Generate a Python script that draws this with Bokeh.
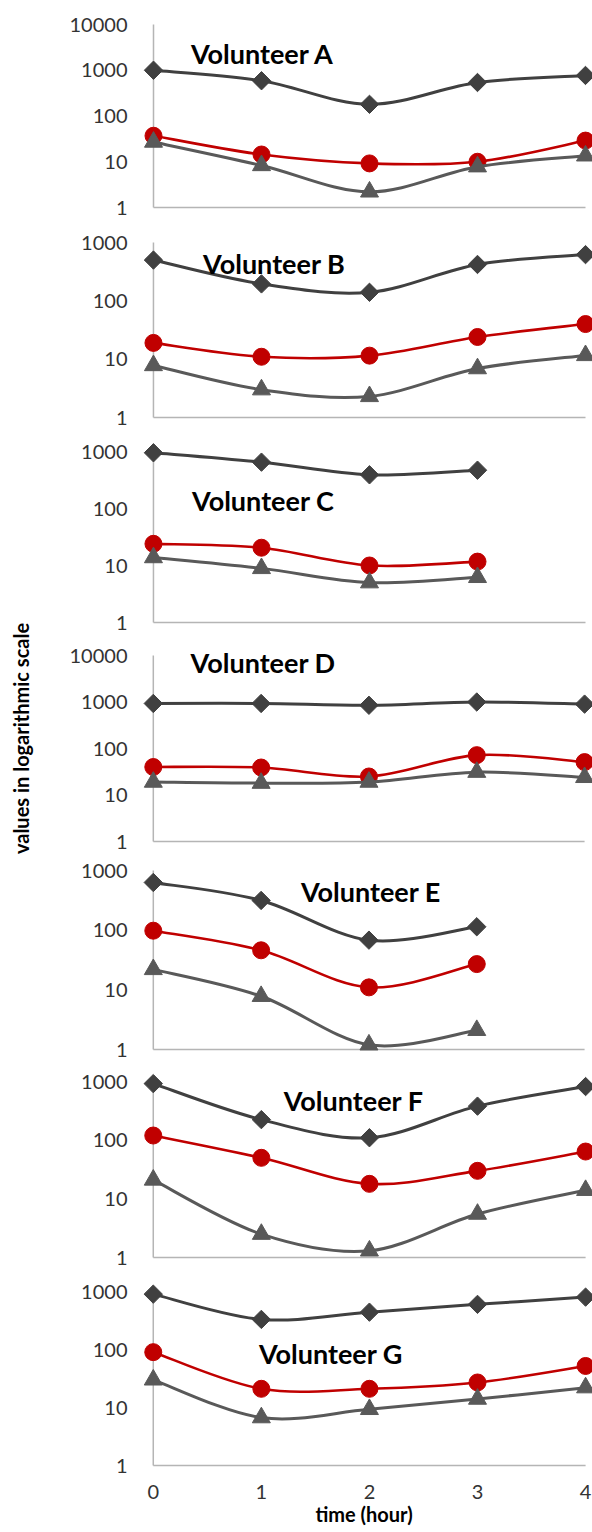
import math
from bokeh.plotting import figure
from bokeh.layouts import row, column
from bokeh.models import Range1d, FixedTicker, NumeralTickFormatter, Label
from bokeh.embed import file_html
from bokeh.resources import INLINE

# ---------------- data ----------------
hours = [0, 1, 2, 3, 4]
volunteers = ["A", "B", "C", "D", "E", "F", "G"]
y_ticks = [1, 10, 100, 1000, 10000]

# series 1 (dark diamonds), series 2 (red circles), series 3 (grey triangles)
a_s1 = [1000, 590, 180, 540, 770]
a_s2 = [37, 14.4, 9.2, 10, 29]
a_s3 = [27, 8.3, 2.2, 7.8, 13.5]

b_s1 = [500, 195, 140, 420, 620]
b_s2 = [19, 11, 11.5, 24, 40]
b_s3 = [7.8, 3.0, 2.3, 6.9, 11.6]

c_s1 = [950, 650, 390, 470]
c_s2 = [24, 20.5, 10, 11.7]
c_s3 = [13.8, 8.9, 5.0, 6.2]

d_s1 = [930, 930, 850, 1000, 900]
d_s2 = [40, 39, 25, 72, 51]
d_s3 = [19, 18, 19, 31, 24]

e_s1 = [630, 315, 68, 114]
e_s2 = [98, 46, 11, 27]
e_s3 = [22, 7.8, 1.2, 2.1]

f_s1 = [920, 224, 110, 380, 820]
f_s2 = [120, 50, 18, 30, 64]
f_s3 = [21, 2.5, 1.3, 5.5, 14]

g_s1 = [900, 330, 440, 600, 800]
g_s2 = [90, 21, 21, 27, 52]
g_s3 = [30, 6.7, 9.3, 14, 22]

series = {
    "A": (a_s1, a_s2, a_s3), "B": (b_s1, b_s2, b_s3), "C": (c_s1, c_s2, c_s3),
    "D": (d_s1, d_s2, d_s3), "E": (e_s1, e_s2, e_s3), "F": (f_s1, f_s2, f_s3),
    "G": (g_s1, g_s2, g_s3),
}
axis_top = {"A": 10000, "B": 1000, "C": 1000, "D": 10000, "E": 1000, "F": 1000, "G": 1000}

y_title = "values in logarithmic scale"
x_title = "time (hour)"

# ---------------- layout (page pixel geometry) ----------------
LAYOUT = {
    "A": dict(ct=0, h=225, yt=24, yb=207, xa=153, x4=585, tx=262, ty=53),
    "B": dict(ct=225, h=210, yt=242, yb=417, xa=152, x4=585, tx=273, ty=263),
    "C": dict(ct=435, h=205, yt=451, yb=622, xa=152, x4=585, tx=262, ty=500),
    "D": dict(ct=640, h=216, yt=655, yb=841, xa=148, x4=584, tx=259, ty=662),
    "E": dict(ct=856, h=208, yt=870, yb=1049, xa=148, x4=584, tx=368, ty=891),
    "F": dict(ct=1064, h=211, yt=1081, yb=1257, xa=147, x4=585, tx=350, ty=1100),
    "G": dict(ct=1275, h=255, yt=1291, yb=1465, xa=147, x4=585, tx=327, ty=1353),
}

C1, C2, C3 = "#404040", "#C00000", "#595959"
AXIS_GREY = "#b5b5b5"
FONT = "Lato"
LEFT_W = 48
PANEL_W = 544
RIGHT_EDGE = LEFT_W + PANEL_W


def bezier_segments(xs, ys):
    ly = [math.log10(v) for v in ys]
    n = len(xs)
    out = dict(x0=[], y0=[], x1=[], y1=[], cx0=[], cy0=[], cx1=[], cy1=[])
    for i in range(n - 1):
        im = max(i - 1, 0)
        ip = min(i + 2, n - 1)
        out["x0"].append(xs[i]); out["y0"].append(ys[i])
        out["x1"].append(xs[i + 1]); out["y1"].append(ys[i + 1])
        out["cx0"].append(xs[i] + (xs[i + 1] - xs[im]) / 6)
        out["cy0"].append(10 ** (ly[i] + (ly[i + 1] - ly[im]) / 6))
        out["cx1"].append(xs[i + 1] - (xs[ip] - xs[i]) / 6)
        out["cy1"].append(10 ** (ly[i + 1] - (ly[ip] - ly[i]) / 6))
    return out


def make_panel(name, last=False):
    L = LAYOUT[name]
    top = axis_top[name]
    d = (L["yb"] - L["yt"]) / math.log10(top)
    unit = (L["x4"] - L["xa"]) / 4
    fl = L["xa"] - 18
    pad_b = 4 if last else 12
    fb = L["yb"] + pad_b
    cb = L["ct"] + L["h"]
    x_start = (fl - L["xa"]) / unit
    x_end = 4 + (RIGHT_EDGE - L["x4"]) / unit
    y_end = top * 10 ** ((L["yt"] - L["ct"]) / d)
    y_start = 10 ** (-pad_b / d)

    p = figure(width=PANEL_W, height=L["h"], y_axis_type="log",
               x_range=Range1d(x_start, x_end), y_range=Range1d(y_start, y_end),
               toolbar_location=None, output_backend="svg", title=None,
               min_border_left=fl - LEFT_W, min_border_right=0,
               min_border_top=0, min_border_bottom=cb - fb)
    p.outline_line_color = None
    p.xgrid.visible = False
    p.ygrid.visible = False
    p.background_fill_color = "white"

    yt = [t for t in y_ticks if t <= top]
    p.yaxis.ticker = FixedTicker(ticks=yt, minor_ticks=[])
    p.yaxis.formatter = NumeralTickFormatter(format="0")
    p.yaxis.axis_line_color = None
    p.yaxis.major_tick_line_color = None
    p.yaxis.minor_tick_line_color = None
    p.yaxis.major_label_standoff = 2
    p.yaxis.major_label_text_font = FONT
    p.yaxis.major_label_text_font_size = "20px"
    p.yaxis.major_label_text_color = "#333333"

    if last:
        p.xaxis.ticker = FixedTicker(ticks=hours, minor_ticks=[])
        p.xaxis.axis_line_color = None
        p.xaxis.major_tick_line_color = None
        p.xaxis.minor_tick_line_color = None
        p.xaxis.major_label_standoff = 9
        p.xaxis.major_label_text_font = FONT
        p.xaxis.major_label_text_font_size = "20px"
        p.xaxis.major_label_text_color = "#333333"
        p.xaxis.axis_label = x_title
        p.xaxis.axis_label_text_font = FONT
        p.xaxis.axis_label_text_font_style = "bold"
        p.xaxis.axis_label_text_font_size = "20px"
        p.xaxis.axis_label_text_color = "black"
        p.xaxis.axis_label_standoff = 0
    else:
        p.xaxis.visible = False

    # axis lines
    p.segment(x0=[hours[0]], y0=[y_ticks[0]], x1=[hours[0]], y1=[top],
              line_color=AXIS_GREY, line_width=1.5)
    p.segment(x0=[hours[0]], y0=[y_ticks[0]], x1=[hours[-1]], y1=[y_ticks[0]],
              line_color=AXIS_GREY, line_width=1.5)

    s1, s2, s3 = series[name]
    for vals, col, marker, size, ang, lw in (
        (s1, C1, "square", 13, math.pi / 4, 3),
        (s2, C2, "circle", 17, 0, 2.6),
        (s3, C3, "triangle", 18, 0, 3),
    ):
        xs = hours[:len(vals)]
        seg = bezier_segments(xs, vals)
        p.bezier(line_color=col, line_width=lw, **seg)
        p.scatter(xs, vals, marker=marker, size=size, angle=ang,
                  fill_color=col, line_color=col)

    tx = (L["tx"] - L["xa"]) / unit
    ty = 10 ** ((L["yb"] - L["ty"]) / d)
    p.add_layout(Label(x=tx, y=ty, text="Volunteer " + name, text_font=FONT,
                       text_font_style="bold", text_font_size="27px",
                       text_align="center", text_baseline="alphabetic",
                       text_color="black"))
    return p


panels = [make_panel(v, last=(v == "G")) for v in volunteers]
total_h = sum(LAYOUT[v]["h"] for v in volunteers)

lf = figure(width=LEFT_W, height=total_h, x_range=Range1d(0, LEFT_W),
            y_range=Range1d(0, total_h), toolbar_location=None,
            output_backend="svg", title=None, min_border=0)
lf.xaxis.visible = False
lf.yaxis.visible = False
lf.xgrid.visible = False
lf.ygrid.visible = False
lf.outline_line_color = None
lf.add_layout(Label(x=20, y=total_h - 738, text=y_title,
                    angle=math.pi / 2, text_align="center", text_baseline="middle",
                    text_font=FONT, text_font_style="bold", text_font_size="20px",
                    text_color="black"))

layout = row(lf, column(*panels))
open("out.html", "w").write(file_html(layout, INLINE))
